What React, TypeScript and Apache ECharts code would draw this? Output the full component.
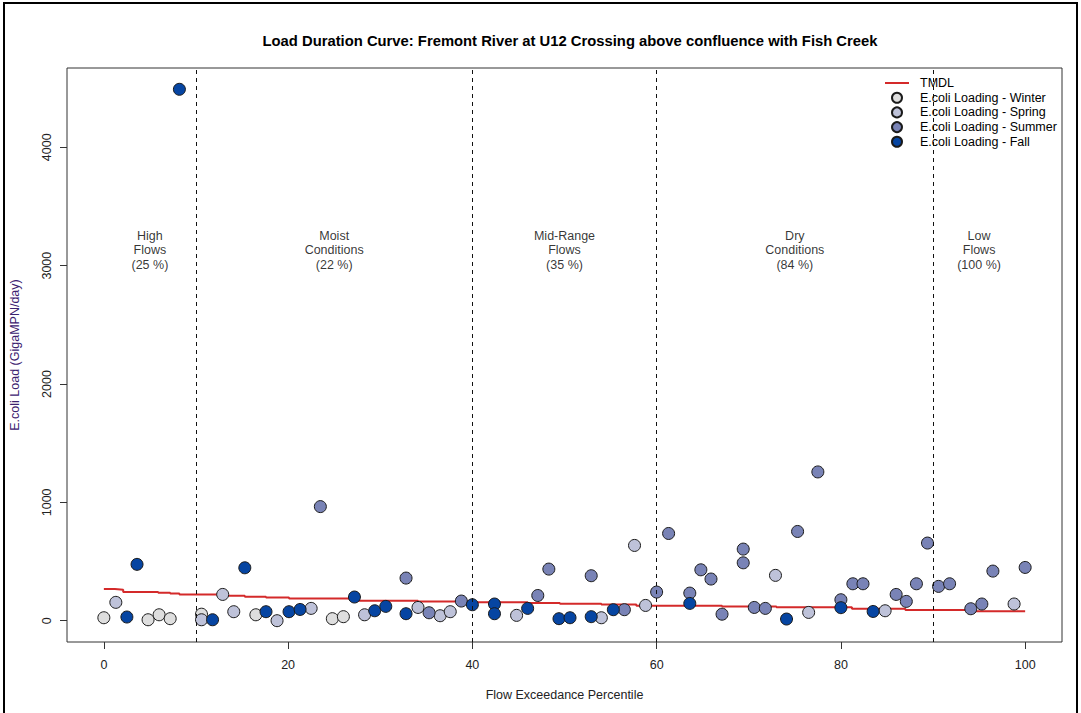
import React, { useEffect, useRef } from "react";
import * as echarts from "echarts";

// Flow exceedance percentile (x) and E.coli load in GigaMPN/day (y) per season
const winterX = [0.0, 4.8, 6.0, 7.2, 10.6, 16.5, 24.8, 26.0];
const winterY = [25, 8, 50, 17, 55, 50, 17, 34];

const springX = [1.3, 10.6, 12.9, 14.1, 18.8, 22.5, 28.3, 34.1, 36.5, 37.6, 44.8, 54.0, 57.6, 58.8, 72.9, 76.5, 84.8, 98.8];
const springY = [155, 8, 222, 76, 0, 104, 50, 112, 42, 76, 45, 25, 636, 129, 383, 70, 84, 141];

const summerX = [23.5, 32.8, 35.3, 38.8, 47.1, 48.3, 52.9, 56.5, 60.0, 61.3, 63.6, 64.8, 65.9, 67.1, 69.4, 69.4, 70.6, 71.8, 75.3, 77.5, 80.0, 81.3, 82.4, 86.0, 87.1, 88.2, 89.4, 90.6, 91.8, 94.1, 95.3, 96.5, 100.0];
const summerY = [964, 360, 67, 166, 213, 436, 380, 93, 242, 737, 233, 430, 352, 55, 605, 489, 112, 104, 754, 1257, 177, 312, 312, 222, 163, 312, 656, 290, 312, 101, 141, 419, 450];

const fallX = [2.5, 3.6, 8.2, 11.8, 15.3, 17.6, 20.1, 21.3, 27.2, 29.4, 30.6, 32.8, 40.0, 42.4, 42.4, 46.0, 49.4, 50.6, 52.9, 55.3, 63.6, 74.1, 80.0, 83.5];
const fallY = [31, 476, 4490, 8, 447, 76, 76, 95, 200, 84, 121, 59, 135, 141, 59, 104, 17, 25, 34, 93, 146, 14, 110, 78];

// TMDL load level beginning at each percentile (stepped curve)
const tmdlX = [0, 1.2, 2.1, 5.9, 7.2, 8.2, 12.9, 15.3, 17.6, 20.1, 27.2, 34.1, 40.0, 46.0, 49.5, 54.0, 57.8, 67.1, 73.0, 81.2, 87.0, 93.9, 100];
const tmdlY = [267, 262, 242, 236, 229, 221, 211, 203, 195, 187, 168, 162, 156, 150, 144, 137, 127, 119, 113, 102, 91, 79, 74];

// Flow regime zones
const zoneBreaks = [10, 40, 60, 90];
const zoneCenters = [5, 25, 50, 75, 95];
const zoneNames = ["High\nFlows", "Moist\nConditions", "Mid-Range\nFlows", "Dry\nConditions", "Low\nFlows"];
const zonePct = [25, 22, 35, 84, 100];
const zoneLabelY = 3131;

const xTicks = [0, 20, 40, 60, 80, 100];
const yTicks = [0, 1000, 2000, 3000, 4000];

const seasonNames = [
  "E.coli Loading - Winter",
  "E.coli Loading - Spring",
  "E.coli Loading - Summer",
  "E.coli Loading - Fall",
];
const seasonColors = ["#dedede", "#bec2d9", "#7983b6", "#0645a2"];

const FONT = "'Liberation Sans', Arial, sans-serif";

const pairs = (xs: number[], ys: number[]) => xs.map((x, i) => [x, ys[i]]);

export default function App() {
  const ref = useRef<HTMLDivElement>(null);

  useEffect(() => {
    if (!ref.current) return;
    const chart = echarts.init(ref.current, undefined, { renderer: "svg" });

    const seasonData = [
      pairs(winterX, winterY),
      pairs(springX, springY),
      pairs(summerX, summerY),
      pairs(fallX, fallY),
    ];

    const scatterSeries = seasonNames.map((name, i) => ({
      name,
      type: "scatter",
      data: seasonData[i],
      symbol: "circle",
      symbolSize: 12,
      itemStyle: { color: seasonColors[i], borderColor: "#1a1a1a", borderWidth: 1, opacity: 1 },
      z: 3,
    }));

    chart.setOption({
      animation: false,
      backgroundColor: "#ffffff",
      textStyle: { fontFamily: FONT },
      title: {
        text: "Load Duration Curve: Fremont River at U12 Crossing above confluence with Fish Creek",
        left: 565,
        top: 28,
        textAlign: "center",
        textStyle: { fontFamily: FONT, fontSize: 14.8, fontWeight: "bold", color: "#000" },
      },
      legend: {
        data: [
          { name: "TMDL", itemStyle: { opacity: 0 } },
          ...seasonNames.map((n) => ({ name: n })),
        ],
        orient: "vertical",
        left: 884,
        top: 76,
        itemWidth: 24,
        itemHeight: 10,
        itemGap: 0.7,
        padding: 0,
        textStyle: { fontFamily: FONT, fontSize: 12.5, color: "#000", lineHeight: 14, padding: [0, 0, 0, 6] },
        selectedMode: false,
      },
      grid: {
        left: 67,
        right: 19,
        top: 68,
        bottom: 71,
        show: true,
        borderColor: "#333",
        borderWidth: 1,
        backgroundColor: "transparent",
      },
      xAxis: {
        type: "value",
        min: -4,
        max: 104,
        name: "Flow Exceedance Percentile",
        nameLocation: "middle",
        nameGap: 46,
        nameTextStyle: { fontFamily: FONT, fontSize: 12.5, color: "#222" },
        axisLine: { show: false, onZero: false },
        splitLine: { show: false },
        axisTick: { show: true, length: 7, customValues: xTicks, lineStyle: { color: "#333" } },
        axisLabel: { customValues: xTicks, margin: 16, fontSize: 12.5, color: "#222", fontFamily: FONT },
      },
      yAxis: {
        type: "value",
        min: -180,
        max: 4670,
        name: "E.coli Load (GigaMPN/day)",
        nameLocation: "middle",
        nameGap: 46,
        nameTextStyle: { fontFamily: FONT, fontSize: 12.5, color: "#3c2270" },
        axisLine: { show: false, onZero: false },
        splitLine: { show: false },
        axisTick: { show: true, length: 7, customValues: yTicks, lineStyle: { color: "#333" } },
        axisLabel: {
          customValues: yTicks,
          rotate: 90,
          margin: 14,
          fontSize: 12.5,
          color: "#222",
          fontFamily: FONT,
          formatter: (v: number) => String(v),
        },
      },
      graphic: [
        {
          type: "rect",
          shape: { x: 4, y: 3, width: 1073, height: 730 },
          style: { fill: "none", stroke: "#000", lineWidth: 2 },
          silent: true,
          z: 100,
        },
      ],
      series: [
        {
          name: "TMDL",
          type: "line",
          step: "end",
          data: pairs(tmdlX, tmdlY),
          symbol: "none",
          lineStyle: { color: "#d42a2a", width: 2 },
          itemStyle: { color: "#d42a2a" },
          z: 2,
          markLine: {
            silent: true,
            symbol: "none",
            label: { show: false },
            lineStyle: { type: [4, 4], color: "#111", width: 1 },
            data: zoneBreaks.map((v) => ({ xAxis: v })),
          },
        },
        ...scatterSeries,
        {
          name: "zones",
          type: "scatter",
          symbolSize: 0,
          silent: true,
          data: zoneCenters.map((c) => [c, zoneLabelY]),
          label: {
            show: true,
            position: "inside",
            fontFamily: FONT,
            fontSize: 12.5,
            lineHeight: 14.5,
            color: "#000",
            align: "center",
            formatter: (p: any) => `${zoneNames[p.dataIndex]}\n(${zonePct[p.dataIndex]} %)`,
          },
        },
      ],
    });

    return () => chart.dispose();
  }, []);

  return (
    <div
      ref={ref}
      style={{ position: "fixed", left: 0, top: 0, width: 1081, height: 713, background: "#fff" }}
    />
  );
}
